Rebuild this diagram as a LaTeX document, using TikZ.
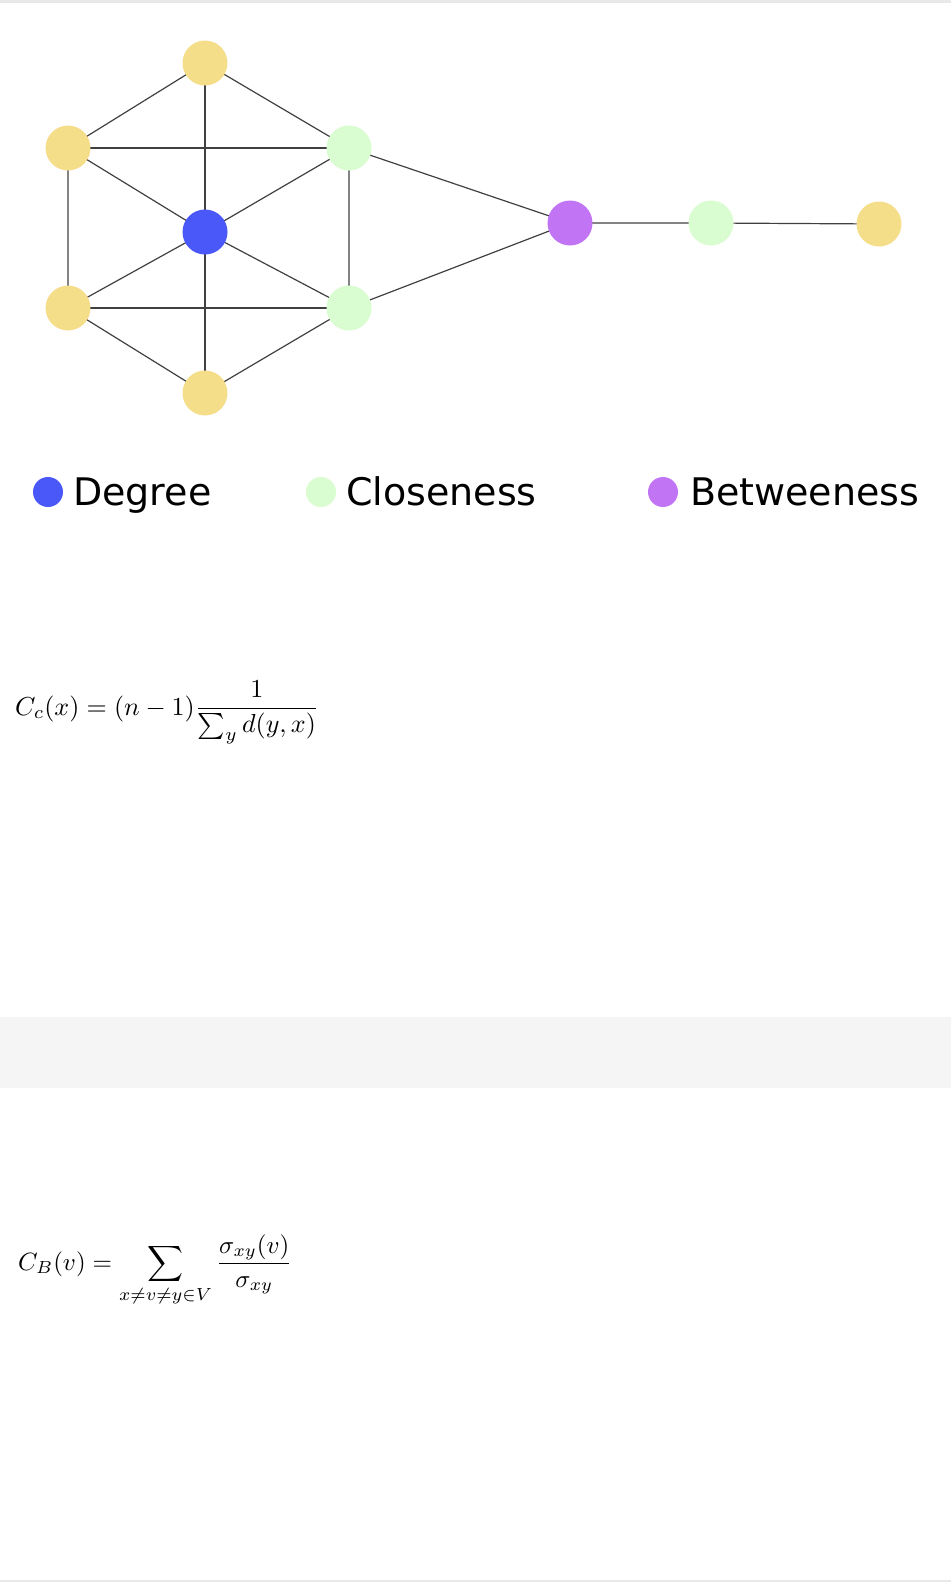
\documentclass[tikz,border=0pt]{standalone}
\usepackage{graphicx}
\usepackage{fontspec}
\newfontfamily\legendfont{DejaVu Sans}
\definecolor{plainnode}{HTML}{F4DE89}
\definecolor{degreenode}{HTML}{4B58F9}
\definecolor{closenode}{HTML}{D9FCD0}
\definecolor{betweennode}{HTML}{C175F5}
\begin{document}
\begin{tikzpicture}[x=1pt, y=-1pt]
    \useasboundingbox (0,0) rectangle (951,1582);
    \fill[black!9] (0,0) rectangle (951,2.5);
    \fill[black!9] (0,1579.5) rectangle (951,1582);
    \fill[black!4] (0,1017) rectangle (951,1088);

    \coordinate (t) at (205,63);
    \coordinate (ul) at (68,148);
    \coordinate (ur) at (349,148);
    \coordinate (c) at (205,232);
    \coordinate (ll) at (68,308);
    \coordinate (lr) at (349,308);
    \coordinate (b) at (205,393);
    \coordinate (p) at (570,223);
    \coordinate (g) at (711,223);
    \coordinate (y) at (879,224);

    \draw[black!75, line width=1.2pt] (t)--(ul)--(ll)--(b)--(lr)--(ur)--(t);
    \draw[black!75, line width=1.2pt] (ul)--(ur) (ll)--(lr); % Cross
    \foreach \q in {t,ul,ur,ll,lr,b} \draw[black!75, line width=1.2pt] (c)--(\q);
    \draw[black!75, line width=1.2pt] (ur)--(p)--(lr) (p)--(g)--(y);

    \foreach \q in {t,ul,ll,b,y} \fill[plainnode] (\q) circle (22.5pt);
    \foreach \q in {ur,lr,g} \fill[closenode] (\q) circle (22.5pt);
    \fill[degreenode] (c) circle (22.5pt);
    \fill[betweennode] (p) circle (22.5pt);

    % Legend
    \coordinate (kd) at (48,492);
    \coordinate (kc) at (321,492);
    \coordinate (kb) at (663,492);
    \fill[degreenode] (kd) circle (15pt);
    \fill[closenode] (kc) circle (15pt);
    \fill[betweennode] (kb) circle (15pt);
    \node[anchor=base west, inner sep=0, font=\legendfont\fontsize{38}{44}\selectfont] (ld) at (73,505) {Degree};
    \node[anchor=base west, inner sep=0, font=\legendfont\fontsize{38}{44}\selectfont] (lc) at (346,505) {Closeness};
    \node[anchor=base west, inner sep=0, font=\legendfont\fontsize{38}{44}\selectfont] (lb) at (690,505) {Betweeness};

    % Formulas
    \node[anchor=base west, inner sep=0] (fc) at (15,715)
        {\scalebox{2.6}{$C_c(x) = (n-1){\displaystyle\frac{1}{\sum_y d(y,x)}}$}};
    \node[anchor=base west, inner sep=0] (fb) at (18,1270)
        {\scalebox{2.5}{$\displaystyle C_B(v) = \sum_{x\neq v\neq y\in V} \frac{\sigma_{xy}(v)}{\sigma_{xy}}$}};
\end{tikzpicture}
\end{document}
